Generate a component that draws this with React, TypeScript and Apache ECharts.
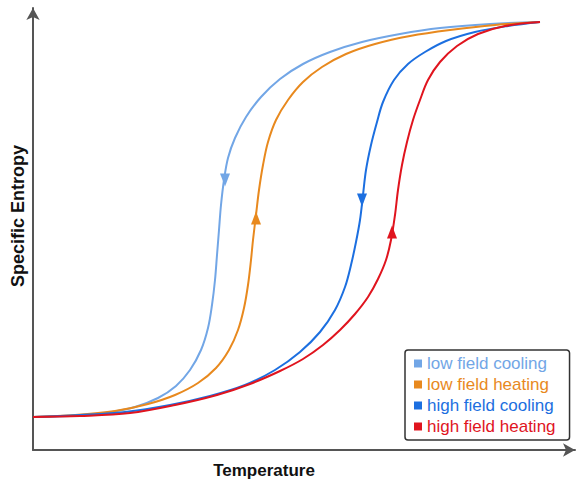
import React, { useEffect, useRef } from "react";
import * as echarts from "echarts";

// Values (arbitrary units: temperature 0..542, entropy 0..442)
const lowFieldCooling: [number, number][] = [
  [0, 33], [37, 34], [72, 37], [102, 43], [125, 52], [143, 64], [157, 80], [168, 100],
  [175, 122], [179, 145], [182, 170], [184, 195], [186, 220], [188, 245], [191, 270],
  [195, 292], [202, 312], [213, 333], [228, 353], [247, 371], [270, 386], [297, 398],
  [329, 408], [367, 416], [407, 422], [457, 426], [507, 428],
];
const lowFieldHeating: [number, number][] = [
  [0, 33], [42, 35], [82, 39], [115, 46], [142, 55], [165, 67], [183, 82], [196, 100],
  [205, 120], [211, 142], [215, 165], [218, 190], [220, 210], [223, 235], [226, 260],
  [230, 285], [235, 308], [243, 330], [255, 350], [270, 368], [289, 383], [313, 396],
  [342, 406], [377, 414], [417, 420], [462, 425], [507, 428],
];
const highFieldCooling: [number, number][] = [
  [0, 33], [47, 35], [92, 38], [137, 45], [177, 54], [212, 65], [242, 80], [267, 98],
  [287, 118], [302, 140], [312, 163], [318, 185], [323, 208], [327, 230], [330, 255],
  [333, 280], [338, 305], [344, 328], [350, 348], [361, 370], [375, 386], [392, 398],
  [413, 409], [442, 418], [475, 424], [507, 428],
];
const highFieldHeating: [number, number][] = [
  [0, 33], [47, 34], [97, 37], [142, 45], [184, 55], [217, 66], [247, 79], [270, 91],
  [290, 105], [307, 120], [322, 136], [335, 153], [345, 171], [353, 190], [358, 210],
  [362, 235], [365, 260], [369, 285], [374, 308], [380, 330], [387, 350], [395, 370],
  [407, 388], [424, 404], [445, 416], [472, 424], [507, 428],
];

const seriesNames = ["low field cooling", "low field heating", "high field cooling", "high field heating"];
const seriesColors = ["#72a6e6", "#e8891e", "#1c6fe0", "#e0141e"];
const seriesData = [lowFieldCooling, lowFieldHeating, highFieldCooling, highFieldHeating];
// arrow marks: [temperature, entropy, direction]
const arrowMarks: [number, number, string][] = [
  [192, 270, "down"],
  [223, 232, "up"],
  [329, 250, "down"],
  [359, 218, "up"],
];

export default function App() {
  const ref = useRef<HTMLDivElement>(null);
  useEffect(() => {
    if (!ref.current) return;
    const chart = echarts.init(ref.current, null, { renderer: "svg" });
    const font = "Liberation Sans, Arial, sans-serif";
    chart.setOption({
      animation: false,
      backgroundColor: "#ffffff",
      grid: { left: 33, right: 2, top: 8, bottom: 37 },
      xAxis: {
        type: "value",
        min: 0,
        max: 542,
        axisLine: {
          show: true,
          symbol: ["none", "arrow"],
          symbolSize: [10, 12],
          lineStyle: { color: "#555", width: 2 },
        },
        axisTick: { show: false },
        axisLabel: { show: false },
        splitLine: { show: false },
      },
      yAxis: {
        type: "value",
        min: 0,
        max: 442,
        axisLine: {
          show: true,
          symbol: ["none", "arrow"],
          symbolSize: [10, 12],
          lineStyle: { color: "#555", width: 2 },
        },
        axisTick: { show: false },
        axisLabel: { show: false },
        splitLine: { show: false },
      },
      legend: {
        orient: "vertical",
        left: 405,
        top: 350,
        icon: "rect",
        itemWidth: 8,
        itemHeight: 8,
        itemGap: 4,
        padding: [5, 14, 5, 9],
        borderColor: "#333",
        borderWidth: 1.5,
        borderRadius: 3,
        data: seriesNames.map((n, i) => ({
          name: n,
          textStyle: { color: seriesColors[i], fontSize: 17, lineHeight: 17, fontFamily: font },
        })),
      },
      graphic: [
        {
          type: "text",
          x: 264,
          y: 470,
          style: {
            text: "Temperature",
            font: "bold 17px Liberation Sans, Arial, sans-serif",
            fill: "#111",
            align: "center",
            verticalAlign: "middle",
          },
        },
        {
          type: "text",
          x: 18,
          y: 216,
          rotation: Math.PI / 2,
          style: {
            text: "Specific Entropy",
            font: "bold 18px Liberation Sans, Arial, sans-serif",
            fill: "#111",
            align: "center",
            verticalAlign: "middle",
          },
        },
      ],
      series: seriesData.map((d, i) => ({
        name: seriesNames[i],
        type: "line",
        data: d,
        smooth: 0.35,
        showSymbol: false,
        symbol: "none",
        color: seriesColors[i],
        lineStyle: { width: 2, color: seriesColors[i] },
        markPoint: {
          symbol: "triangle",
          symbolSize: [10, 13],
          symbolRotate: arrowMarks[i][2] === "down" ? 180 : 0,
          itemStyle: { color: seriesColors[i] },
          label: { show: false },
          data: [{ coord: [arrowMarks[i][0], arrowMarks[i][1]] }],
        },
      })),
    });
    return () => chart.dispose();
  }, []);
  return (
    <div
      ref={ref}
      style={{ position: "absolute", left: 0, top: 0, width: 577, height: 487 }}
    />
  );
}
